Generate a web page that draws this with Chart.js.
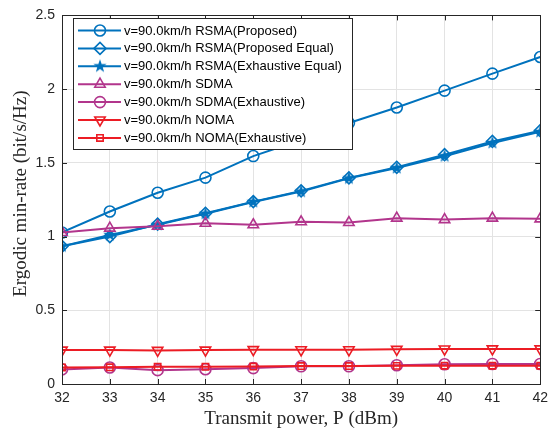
<!DOCTYPE html>
<html>
<head>
<meta charset="utf-8">
<script src="https://cdn.jsdelivr.net/npm/chart.js@4.4.1/dist/chart.umd.min.js"></script>
<style>
  html, body { margin: 0; padding: 0; background: #fff; }
  #wrap { width: 554px; height: 430px; position: relative; }
</style>
</head>
<body>
<div id="wrap"><canvas id="chartRate"></canvas></div>
<script>
// ── Datos ─────────────────────────────────────────────────────────────────────
const POTENCIA = [32, 33, 34, 35, 36, 37, 38, 39, 40, 41, 42];
const Y_TICKS  = [0, 0.5, 1, 1.5, 2, 2.5];

const RSMA_PROP       = [1.028, 1.17, 1.297, 1.40, 1.546, 1.655, 1.77, 1.875, 1.99, 2.105, 2.218];
const RSMA_PROP_EQ    = [0.934, 1.00, 1.084, 1.158, 1.237, 1.31, 1.398, 1.47, 1.555, 1.645, 1.718];
const RSMA_EXH_EQ     = [0.934, 1.01, 1.08, 1.155, 1.235, 1.305, 1.395, 1.465, 1.545, 1.635, 1.71];
const SDMA            = [1.028, 1.057, 1.07, 1.09, 1.08, 1.10, 1.095, 1.125, 1.115, 1.125, 1.12];
const SDMA_EXH        = [0.099, 0.112, 0.094, 0.10, 0.108, 0.12, 0.12, 0.127, 0.134, 0.136, 0.136];
const NOMA            = [0.23, 0.23, 0.228, 0.23, 0.233, 0.232, 0.232, 0.235, 0.237, 0.238, 0.238];
const NOMA_EXH        = [0.112, 0.113, 0.117, 0.117, 0.118, 0.122, 0.122, 0.123, 0.124, 0.124, 0.124];

const TITULO_Y = 'Ergodic min-rate (bit/s/Hz)';

const azul    = '#0072BD';
const magenta = '#B2358C';
const rojo    = '#EC1C24';
const serif   = '"Liberation Serif", "DejaVu Serif", serif';
const sans    = '"Liberation Sans", Arial, sans-serif';

// estrella rellena (pentagrama) como imagen de marcador
function crearEstrella(color, r) {
    const c = document.createElement('canvas');
    c.width = c.height = r * 2 + 2;
    const g = c.getContext('2d');
    g.beginPath();
    for (let i = 0; i < 10; i++) {
        const rad = i % 2 === 0 ? r : r * 0.4;
        const a = -Math.PI / 2 + i * Math.PI / 5;
        g.lineTo(r + 1 + rad * Math.cos(a), r + 1 + rad * Math.sin(a));
    }
    g.closePath();
    g.fillStyle = color;
    g.fill();
    return c;
}
const estrella = crearEstrella(azul, 7);

const pts = arr => arr.map((v, i) => ({ x: POTENCIA[i], y: v }));

function serie(label, data, color, estilo, extra) {
    return Object.assign({
        label: label, data: pts(data),
        borderColor: color, borderWidth: 2,
        pointStyle: estilo, pointRadius: 5.5, pointBorderWidth: 1.6,
        pointBorderColor: color, pointBackgroundColor: 'rgba(0,0,0,0)',
        pointRotation: 0, fill: false, tension: 0
    }, extra || {});
}

const datasets = [
    serie('v=90.0km/h RSMA(Proposed)',          RSMA_PROP,    azul,    'circle'),
    serie('v=90.0km/h RSMA(Proposed Equal)',    RSMA_PROP_EQ, azul,    'rectRot', { pointRadius: 6 }),
    serie('v=90.0km/h RSMA(Exhaustive Equal)',  RSMA_EXH_EQ,  azul,    estrella),
    serie('v=90.0km/h SDMA',                    SDMA,         magenta, 'triangle', { pointRadius: 6 }),
    serie('v=90.0km/h SDMA(Exhaustive)',        SDMA_EXH,     magenta, 'circle'),
    serie('v=90.0km/h NOMA',                    NOMA,         rojo,    'triangle', { pointRadius: 6, pointRotation: 180 }),
    serie('v=90.0km/h NOMA(Exhaustive)',        NOMA_EXH,     rojo,    'rect', { pointRadius: 4.5 })
];
// la última serie queda encima
datasets.forEach((d, i) => d.order = datasets.length - 1 - i);

// ── Caja de ejes con marcas hacia dentro + título Y ───────────────────────────
const cajaEjes = { id: 'cajaEjes', afterDatasetsDraw(chart) {
    const { ctx, chartArea: a, scales } = chart;
    ctx.save();
    ctx.strokeStyle = '#262626';
    ctx.lineWidth = 1;
    const L = 5;
    ctx.beginPath();
    POTENCIA.forEach(v => {
        const x = Math.round(scales.x.getPixelForValue(v)) + 0.5;
        ctx.moveTo(x, a.bottom); ctx.lineTo(x, a.bottom - L);
        ctx.moveTo(x, a.top);    ctx.lineTo(x, a.top + L);
    });
    Y_TICKS.forEach(v => {
        const y = Math.round(scales.y.getPixelForValue(v)) + 0.5;
        ctx.moveTo(a.left, y);  ctx.lineTo(a.left + L, y);
        ctx.moveTo(a.right, y); ctx.lineTo(a.right - L, y);
    });
    ctx.stroke();
    ctx.strokeRect(Math.round(a.left) + 0.5, Math.round(a.top) + 0.5,
                   Math.round(a.right - a.left), Math.round(a.bottom - a.top));

    // título del eje Y, girado
    ctx.translate(21, (a.top + a.bottom) / 2 - 6);
    ctx.rotate(-Math.PI / 2);
    ctx.font = '19px ' + serif;
    ctx.fillStyle = '#262626';
    ctx.textAlign = 'center';
    ctx.textBaseline = 'middle';
    ctx.fillText(TITULO_Y, 0, 0);
    ctx.restore();
}};

// ── Leyenda dentro del área ───────────────────────────────────────────────────
const leyenda = { id: 'leyenda', afterDraw(chart) {
    const { ctx } = chart;
    const x0 = 73, y0 = 18, w = 279, h = 131, paso = 17.9;
    ctx.save();
    ctx.fillStyle = '#fff';
    ctx.fillRect(x0, y0, w, h);
    ctx.strokeStyle = '#262626';
    ctx.lineWidth = 1;
    ctx.strokeRect(x0 + 0.5, y0 + 0.5, w, h);
    ctx.font = '13px ' + sans;
    ctx.textBaseline = 'middle';
    chart.data.datasets.forEach((d, i) => {
        const y = y0 + 12.5 + i * paso;
        ctx.strokeStyle = d.borderColor;
        ctx.lineWidth = 2;
        ctx.beginPath(); ctx.moveTo(78, y); ctx.lineTo(121, y); ctx.stroke();
        ctx.fillStyle = d.pointBackgroundColor;
        ctx.strokeStyle = d.pointBorderColor;
        ctx.lineWidth = d.pointBorderWidth;
        Chart.helpers.drawPoint(ctx, {
            pointStyle: d.pointStyle, radius: d.pointRadius,
            rotation: d.pointRotation, borderWidth: d.pointBorderWidth
        }, 100, y);
        ctx.fillStyle = '#000';
        ctx.fillText(d.label, 124, y + 0.5);
    });
    ctx.restore();
}};

new Chart(document.getElementById('chartRate'), {
    type: 'line',
    data: { datasets: datasets },
    options: {
        responsive: true, maintainAspectRatio: false, animation: false,
        layout: { padding: { top: 12, right: 13, left: 0, bottom: 0 } },
        plugins: { legend: { display: false }, tooltip: { enabled: false } },
        scales: {
            x: {
                type: 'linear', min: 32, max: 42,
                afterFit: s => { s.height = 46; },
                afterBuildTicks: s => { s.ticks = POTENCIA.map(v => ({ value: v })); },
                grid: { color: '#E3E3E3', drawTicks: false },
                border: { display: false },
                ticks: { padding: 6, color: '#262626', font: { size: 14, family: sans } },
                title: { display: true, text: 'Transmit power, P (dBm)', color: '#262626', padding: { top: 1, bottom: 0 },
                         font: { size: 19, family: serif } }
            },
            y: {
                type: 'linear', min: 0, max: 2.5,
                afterFit: s => { s.width = 62; },
                afterBuildTicks: s => { s.ticks = Y_TICKS.map(v => ({ value: v })); },
                grid: { color: '#E3E3E3', drawTicks: false },
                border: { display: false },
                ticks: { padding: 7, color: '#262626', font: { size: 14, family: sans }, callback: v => String(v) }
            }
        }
    },
    plugins: [cajaEjes, leyenda]
});
</script>
</body>
</html>
